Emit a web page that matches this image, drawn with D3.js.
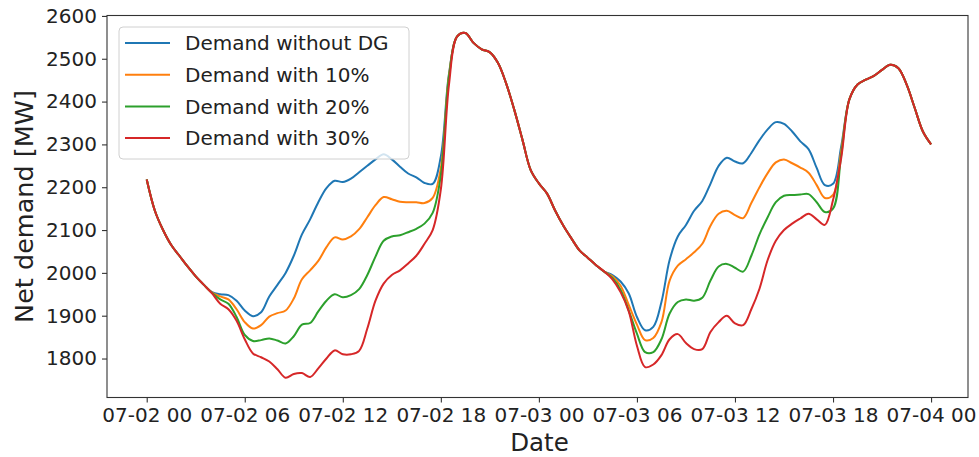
<!DOCTYPE html>
<html>
<head>
<meta charset="utf-8">
<script src="https://cdn.jsdelivr.net/npm/d3@7"></script>
<style>
  body { margin: 0; background: #fff; }
</style>
</head>
<body>
<div id="chart"></div>
<script>
// series are sampled every 30 minutes, starting 07-02 00:00
var startTime = Date.UTC(2019, 6, 2, 0, 0);
var stepMinutes = 30;

var seriesNames = ["Demand without DG", "Demand with 10%", "Demand with 20%", "Demand with 30%"];
var seriesColors = ["#1f77b4", "#ff7f0e", "#2ca02c", "#d62728"];

// one row = 6 hours (12 half-hour values)
var demandWithoutDG = [
  2218, 2145, 2100, 2065, 2040, 2015, 1992, 1972, 1955, 1950, 1948, 1935,
  1912, 1899, 1908, 1945, 1972, 2000, 2040, 2090, 2125, 2165, 2198, 2215,
  2212, 2220, 2235, 2250, 2265, 2277, 2265, 2248, 2232, 2223, 2210, 2208,
  2272, 2465, 2552, 2560, 2537, 2522, 2515, 2490, 2442, 2380, 2310, 2240,
  2209, 2185, 2145, 2110, 2080, 2052, 2035, 2018, 2003, 1995, 1980, 1952,
  1897, 1866, 1874, 1932, 2030, 2085, 2112, 2145, 2168, 2208, 2250, 2269,
  2260, 2256, 2280, 2310, 2335, 2352, 2348, 2330, 2307, 2289, 2245, 2205,
  2208, 2295, 2405, 2440, 2451, 2460, 2474, 2486, 2478, 2440, 2385, 2330,
  2300
];
var demand10 = [
  2218, 2145, 2100, 2065, 2040, 2015, 1992, 1972, 1954, 1945, 1938, 1915,
  1885, 1870, 1878, 1898, 1906, 1912, 1940, 1985, 2006, 2028, 2060, 2083,
  2078, 2085, 2102, 2130, 2158, 2177, 2172, 2166, 2165, 2165, 2163, 2175,
  2245, 2462, 2552, 2560, 2537, 2522, 2515, 2490, 2442, 2380, 2310, 2240,
  2209, 2185, 2145, 2110, 2080, 2052, 2035, 2018, 2003, 1992, 1970, 1925,
  1879, 1843, 1848, 1885, 1982, 2017, 2032, 2048, 2068, 2110, 2138, 2145,
  2135, 2128, 2163, 2200, 2233, 2258, 2265, 2256, 2246, 2234, 2205, 2175,
  2182, 2285, 2405, 2440, 2451, 2460, 2474, 2486, 2478, 2440, 2385, 2330,
  2300
];
var demand20 = [
  2218, 2145, 2100, 2065, 2040, 2015, 1992, 1972, 1953, 1938, 1928, 1897,
  1855, 1841, 1843, 1847, 1842, 1835, 1852, 1879, 1883, 1910, 1935, 1950,
  1943, 1948, 1962, 1995, 2038, 2075, 2085, 2088, 2095, 2103, 2115, 2140,
  2228, 2458, 2552, 2560, 2537, 2522, 2515, 2490, 2442, 2380, 2310, 2240,
  2209, 2185, 2145, 2110, 2080, 2052, 2035, 2018, 2003, 1988, 1960, 1912,
  1858, 1815, 1815, 1845, 1905, 1932, 1938, 1935, 1942, 1982, 2015, 2021,
  2012, 2003, 2040, 2090, 2130, 2165, 2180, 2182, 2183, 2184, 2165, 2142,
  2150, 2275, 2405, 2440, 2451, 2460, 2474, 2486, 2478, 2440, 2385, 2330,
  2300
];
var demand30 = [
  2218, 2145, 2100, 2065, 2040, 2015, 1992, 1972, 1952, 1928, 1915, 1888,
  1845, 1812, 1803, 1793, 1775, 1755, 1764, 1766, 1757, 1777, 1800, 1819,
  1810, 1810, 1818, 1870, 1935, 1975, 1995, 2006, 2022, 2040, 2068, 2100,
  2195, 2440, 2552, 2560, 2537, 2522, 2515, 2490, 2442, 2380, 2310, 2240,
  2209, 2185, 2145, 2110, 2080, 2052, 2035, 2018, 2003, 1985, 1955, 1910,
  1830, 1780, 1786, 1808, 1845, 1857, 1836, 1822, 1822, 1862, 1885, 1900,
  1882, 1878, 1915, 1963, 2030, 2075, 2100, 2115, 2127, 2138, 2125, 2112,
  2170, 2268, 2405, 2440, 2451, 2460, 2474, 2486, 2478, 2440, 2385, 2330,
  2300
];

var xTickLabels = ["07-02 00", "07-02 06", "07-02 12", "07-02 18", "07-03 00",
                   "07-03 06", "07-03 12", "07-03 18", "07-04 00"];
var yTicks = [1800, 1900, 2000, 2100, 2200, 2300, 2400, 2500, 2600];

var allSeries = [demandWithoutDG, demand10, demand20, demand30];

// dimensions and margins of graph
var margin = {top: 15.5, right: 11, bottom: 59.5, left: 107},
    width = 979 - margin.left - margin.right,
    height = 457 - margin.top - margin.bottom;
var font = "'DejaVu Sans', sans-serif";
var hour = 3600 * 1000;

var svg = d3.select("#chart")
  .append("svg")
    .attr("width", 979)
    .attr("height", 457)
    .style("font-family", font)
  .append("g")
    .attr("transform", "translate(" + margin.left + "," + margin.top + ")");

var x = d3.scaleUtc()
  .domain([new Date(startTime - 2.43 * hour), new Date(startTime + 50.26 * hour)])
  .range([0, width]);

var y = d3.scaleLinear()
  .domain([1709, 2601])
  .range([height, 0]);

function timeAt(i) { return new Date(startTime + i * stepMinutes * 60000); }

// X axis, a tick every 6 hours
var xAxis = svg.append("g")
  .attr("transform", "translate(0," + height + ")")
  .call(d3.axisBottom(x)
    .tickValues(xTickLabels.map(function(d, i) { return new Date(startTime + i * 6 * hour); }))
    .tickFormat(function(d, i) { return xTickLabels[i]; })
    .tickSize(5).tickPadding(5).tickSizeOuter(0));

// Y axis
var yAxis = svg.append("g")
  .call(d3.axisLeft(y)
    .tickValues(yTicks)
    .tickFormat(d3.format("d"))
    .tickSize(5).tickPadding(5).tickSizeOuter(0));

[xAxis, yAxis].forEach(function(a) {
  a.attr("font-family", font).attr("font-size", 20);
  a.select(".domain").remove();
  a.selectAll(".tick line").attr("stroke", "#333").attr("stroke-width", 1.1);
  a.selectAll(".tick text").attr("fill", "#222");
});

// lines
var valueline = d3.line()
  .x(function(d, i) { return x(timeAt(i)); })
  .y(function(d) { return y(d); })
  .curve(d3.curveCatmullRom.alpha(0.5));

allSeries.forEach(function(s, k) {
  svg.append("path")
    .datum(s)
    .attr("fill", "none")
    .attr("stroke", seriesColors[k])
    .attr("stroke-width", 2)
    .attr("stroke-linejoin", "round")
    .attr("d", valueline);
});

// frame
svg.append("rect")
  .attr("width", width).attr("height", height)
  .attr("fill", "none").attr("stroke", "#333").attr("stroke-width", 1.1);

// axis labels
svg.append("text")
  .attr("x", width / 2 + 2)
  .attr("y", height + 53.5)
  .attr("text-anchor", "middle")
  .attr("font-size", 24.5)
  .attr("fill", "#222")
  .text("Date");

svg.append("text")
  .attr("transform", "translate(" + (33 - margin.left) + "," + (height / 2) + ") rotate(-90)")
  .attr("text-anchor", "middle")
  .attr("font-size", 25.5)
  .attr("fill", "#222")
  .text("Net demand [MW]");

// legend
var legend = svg.append("g")
  .attr("transform", "translate(" + (119 - margin.left) + "," + (27 - margin.top) + ")");

legend.append("rect")
  .attr("width", 290).attr("height", 132)
  .attr("rx", 4)
  .attr("fill", "#fff").attr("fill-opacity", 0.8)
  .attr("stroke", "#d0d0d0");

var rows = legend.selectAll(".lineLegend").data(seriesNames)
  .enter().append("g")
    .attr("class", "lineLegend")
    .attr("transform", function(d, i) { return "translate(0," + (16 + i * 31.7) + ")"; });

rows.append("line")
  .attr("x1", 6).attr("x2", 51)
  .attr("stroke", function(d, i) { return seriesColors[i]; })
  .attr("stroke-width", 2);

rows.append("text")
  .attr("x", 66)
  .attr("dy", "0.36em")
  .attr("font-size", 20)
  .attr("fill", "#222")
  .text(function(d) { return d; });
</script>
</body>
</html>
